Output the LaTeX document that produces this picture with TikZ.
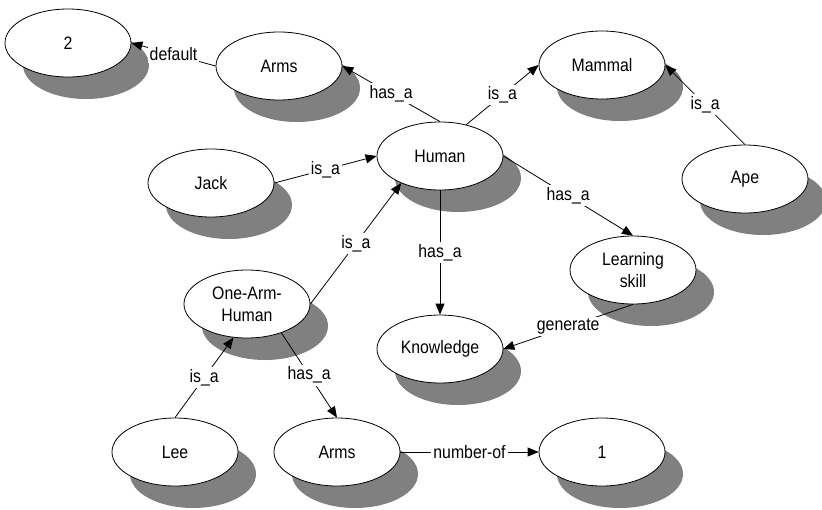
\documentclass[tikz,border=0pt]{standalone}
\usepackage{fontspec}
\setmainfont{Liberation Sans}[FakeStretch=0.88]
\usetikzlibrary{shapes.geometric,arrows.meta,shadows}
\begin{document}
\begin{tikzpicture}[x=1pt,y=-1pt,
  concept/.style={ellipse, draw, line width=0.8pt, fill=white,
    minimum width=126pt, minimum height=68pt, inner sep=0pt, align=center,
    font=\fontsize{18}{22}\selectfont,
    drop shadow={shadow xshift=18pt, shadow yshift=-22pt, opacity=1,
      fill=black!50, draw=none}},
  link/.style={line width=0.8pt, -{Triangle[length=11pt,width=9pt]}},
  lbl/.style={fill=white, inner sep=2pt, font=\fontsize{18}{22}\selectfont}]
\useasboundingbox (0,0) rectangle (822,509);

% concepts
\node[concept] (two)      at (68,43)   {2};
\node[concept] (arms1)    at (279,66)  {Arms};
\node[concept] (mammal)   at (602,65)  {Mammal};
\node[concept] (human)    at (440,156) {Human};
\node[concept] (jack)     at (211,183) {Jack};
\node[concept] (ape)      at (745,179) {Ape};
\node[concept] (learn)    at (633,270) {Learning\\skill};
\node[concept] (onearm)   at (247,304) {One-Arm-\\Human};
\node[concept] (know)     at (440,349) {Knowledge};
\node[concept] (lee)      at (175,452) {Lee};
\node[concept] (arms2)    at (337,452) {Arms};
\node[concept] (one)      at (602,452) {1};

% relations
\draw[link] (arms1.west) -- node[lbl] {default} (two.east);
\draw[link] (human.north) -- node[lbl] {has\_a} (arms1.east);
\draw[link] (human.50) -- node[lbl] {is\_a} (mammal.west);
\draw[link] (ape.north) -- node[lbl] {is\_a} (mammal.east);
\draw[link] (jack.east) -- node[lbl] {is\_a} (human.west);
\draw[link] (human.east) -- node[lbl] {has\_a} (learn.north);
\draw[link] (human.south) -- node[lbl] {has\_a} (know.north);
\draw[link] (onearm.east) -- node[lbl] {is\_a} (human.215);
\draw[link] (lee.north) -- node[lbl] {is\_a} (onearm.248);
\draw[link] (onearm.-40) -- node[lbl] {has\_a} (arms2.north);
\draw[link] (arms2.east) -- node[lbl] {number-of} (one.west);
\draw[link] (learn.south) -- node[lbl] {generate} (know.east);
\end{tikzpicture}
\end{document}
